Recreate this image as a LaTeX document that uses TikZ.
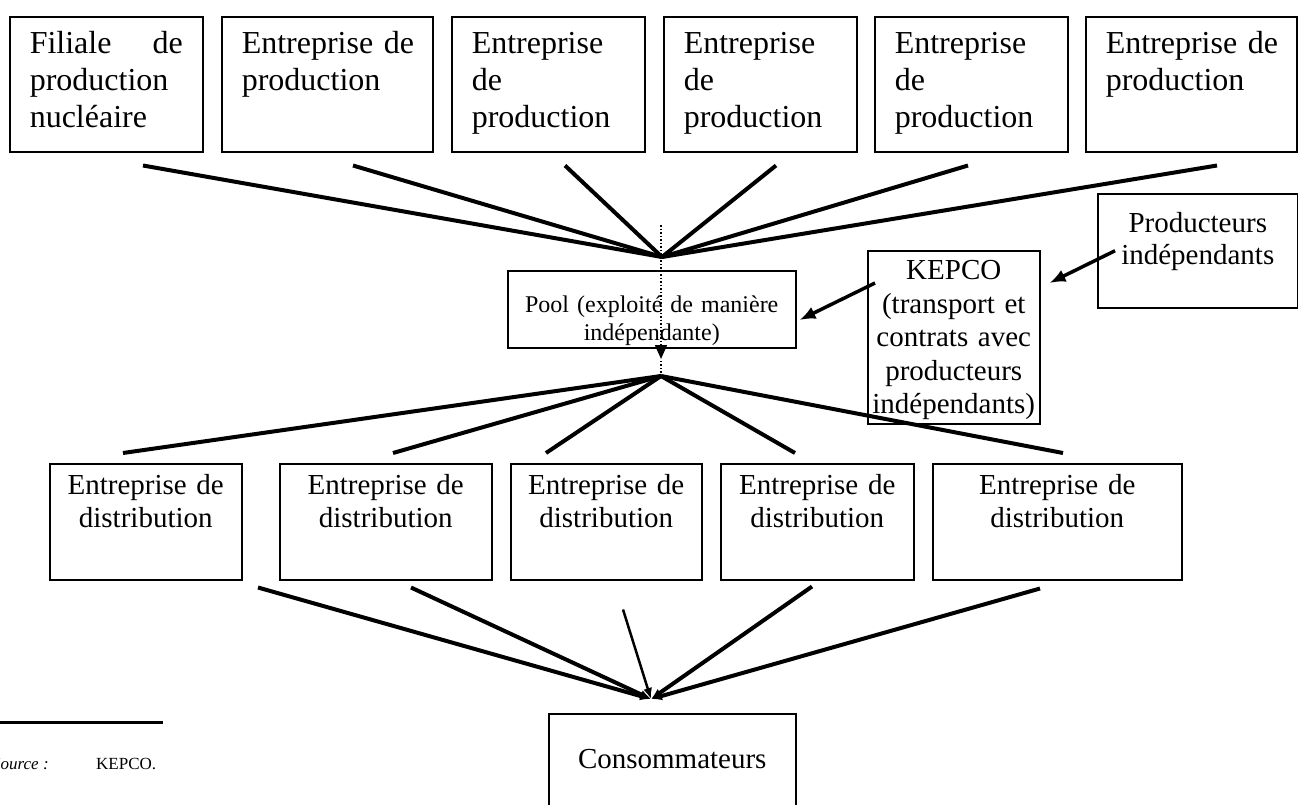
\documentclass[tikz,border=0pt]{standalone}
\usepackage{fontspec}
\setmainfont{Liberation Serif}
\usetikzlibrary{arrows.meta}

\begin{document}
\begin{tikzpicture}[x=1pt, y=-1pt, >={Latex[length=11pt, width=9pt]},
	box/.style={draw, line width=1.5pt, inner sep=0pt, anchor=north west},
	prod/.style={box, inner xsep=20pt, align=left, text height=37pt, text depth=98pt, font=\fontsize{32pt}{37pt}\selectfont},
	dist/.style={box, align=center, text height=31pt, text depth=85pt, font=\fontsize{29pt}{33pt}\selectfont},
	fan/.style={line width=4pt},
	feed/.style={line width=3.5pt, -{Latex[length=16pt, width=13pt]}},
	src/.style={font=\fontsize{17pt}{20pt}\selectfont, anchor=base west, inner sep=0pt}]
	\useasboundingbox (0,0) rectangle (1298,804);
	\node[prod, text width=153pt] (p1) at (9,16) {Filiale\hfill de\\production\\nucléaire};
	\node[prod, text width=171pt] (p2) at (221,16) {Entreprise~de\\production};
	\node[prod, text width=153pt] (p3) at (451,16) {Entreprise\\de\\production};
	\node[prod, text width=153pt] (p4) at (663,16) {Entreprise\\de\\production};
	\node[prod, text width=153pt] (p5) at (874,16) {Entreprise\\de\\production};
	\node[prod, text width=171pt] (p6) at (1085,16) {Entreprise~de\\production};
	\node[box, text width=288pt, align=center, text height=42pt, text depth=35pt, font=\fontsize{24pt}{28pt}\selectfont] (pool) at (507,270) {Pool (exploité de manière\\indépendante)};
	\node[box, text width=172pt, align=center, text height=29pt, text depth=144pt, font=\fontsize{29pt}{33.5pt}\selectfont] (kepco) at (867,250) {KEPCO\\(transport et\\contrats avec\\producteurs\\indépendants)};
	\node[box, text width=200pt, align=center, text height=39pt, text depth=75pt, font=\fontsize{29pt}{32pt}\selectfont] (indep) at (1097,193) {Producteurs\\indépendants};
	\node[dist, text width=192pt] (d1) at (49,463) {Entreprise de\\distribution};
	\node[dist, text width=212pt] (d2) at (279,463) {Entreprise de\\distribution};
	\node[dist, text width=191pt] (d3) at (510,463) {Entreprise de\\distribution};
	\node[dist, text width=193pt] (d4) at (720,463) {Entreprise de\\distribution};
	\node[dist, text width=249pt] (d5) at (932,463) {Entreprise de\\distribution};
	\node[box, text width=247pt, align=center, text height=55pt, text depth=120pt, font=\fontsize{29pt}{33pt}\selectfont] (conso) at (548,713) {Consommateurs};
	\coordinate (hubA) at (662,257);
	\coordinate (hubB) at (661,376);
	\coordinate (hubC) at (651,699);
	\coordinate (mark) at (661,225);
	\foreach \n/\dx in {p1/134, p2/132, p3/114, p4/113, p5/94, p6/132}
		\draw[fan] ([xshift=\dx pt, yshift=-13pt]\n.south west) -- (hubA);
	\draw[line width=1.5pt, dotted, -{Triangle[length=14pt, width=12pt]}] (mark) -- ++(0,134);
	\draw[line width=1.5pt, dotted] (hubB) -- ++(0,-17);
	\foreach \n/\dx in {d1/74, d2/114, d3/36, d4/75, d5/131}
		\draw[fan] (hubB) -- ([xshift=\dx pt, yshift=10pt]\n.north west);
	\foreach \n/\dx/\dy in {d1/209/7, d2/132/7, d4/92/6, d5/108/8}
		\draw[fan, ->] ([xshift=\dx pt, yshift=-\dy pt]\n.south west) -- (hubC);
	\draw[line width=2.5pt, ->] ([xshift=113pt, yshift=-29pt]d3.south west) -- (hubC);
	\draw[feed] ([xshift=18pt]indep.west) -- ([xshift=9pt, yshift=-33pt]kepco.north east);
	\draw[feed] ([xshift=8pt, yshift=-33pt]kepco.north west) -- ([xshift=3pt, yshift=-50pt]pool.north east);
	\draw[line width=3pt] (0,722) -- (163,722);
	\node[src] (srclab) at (-8,769) {\textit{Source :}};
	\node[src] (srcname) at (96,769) {KEPCO.};
\end{tikzpicture}
\end{document}
